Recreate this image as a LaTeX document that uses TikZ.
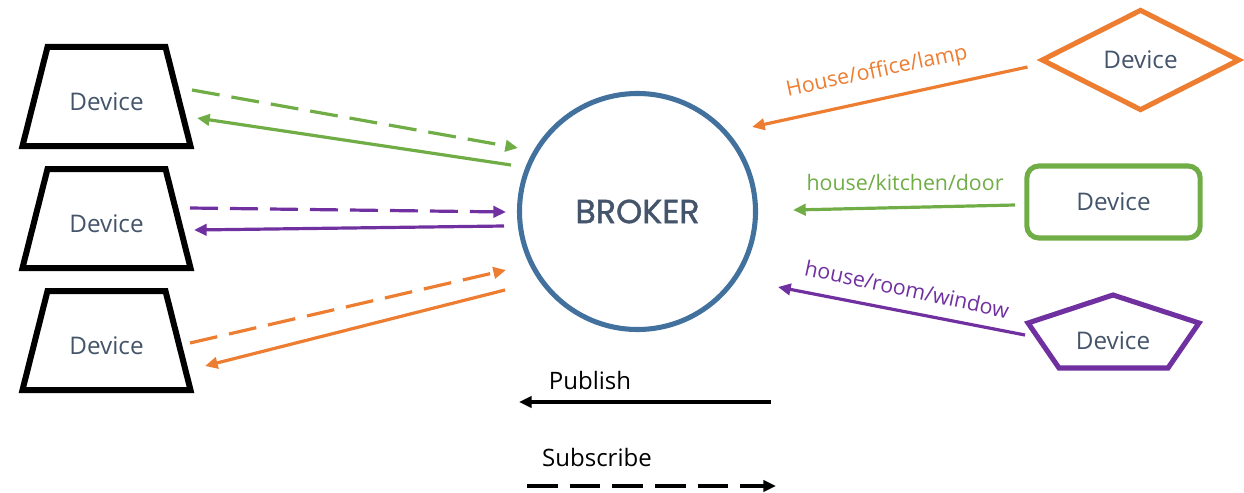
\documentclass[tikz,border=0pt]{standalone}
\usepackage{fontspec}
\setmainfont{Open Sans}
\newfontfamily\brokerfont[FakeBold=1.2]{Poppins}
\usetikzlibrary{shapes.geometric,arrows.meta}
\definecolor{orng}{HTML}{ED7D31}
\definecolor{grn}{HTML}{70AD47}
\definecolor{purp}{HTML}{7030A0}
\definecolor{blu}{HTML}{41719C}
\definecolor{slate}{HTML}{44546A}
\begin{document}
\begin{tikzpicture}[x=0.75pt,y=-0.75pt,
  devtext/.style={text=slate, font=\fontsize{18.2}{21}\selectfont},
  trapline/.style={draw=black, line width=4.5pt, line join=miter},
  conn/.style={line width=2.4pt, -{Triangle[length=9.5pt,width=8.5pt]}},
  dsh/.style={conn, dash pattern=on 21pt off 9pt},
  lbl/.style={font=\fontsize{16}{19}\selectfont},
  legtext/.style={font=\fontsize{18}{21}\selectfont, text=black}
]
\useasboundingbox (0,0) rectangle (1244,492);

% left devices
\node[devtext] (d1) at (106.5,102) {Device};
\node[devtext] (d2) at (106.5,224) {Device};
\node[devtext] (d3) at (106.5,346) {Device};
\foreach \n in {d1,d2,d3}
  \draw[trapline] ([shift={(-59,-55)}]\n.center) -- ([shift={(59,-55)}]\n.center) --
    ([shift={(84,44)}]\n.center) -- ([shift={(-84,44)}]\n.center) -- cycle;

% broker
\node[circle, draw=blu, line width=3.8pt, minimum size=177pt, inner sep=0pt,
      text=slate, font=\brokerfont\fontsize{25}{29}\selectfont] (b) at (637.5,211.5) {BROKER};

% right devices
\node[devtext, diamond, aspect=2, draw=orng, line width=3.8pt, minimum width=149pt,
      minimum height=76pt, inner sep=0pt] (dia) at (1140.5,60) {Device};
\node[devtext, rectangle, rounded corners=9pt, draw=grn, line width=3.8pt,
      minimum width=130pt, minimum height=54pt] (rr) at (1113.5,202) {Device};
\node[devtext] (pt) at (1113,341) {Device};
\draw[purp, line width=3.8pt, line join=miter]
  ([shift={(0,-46)}]pt.center) -- ([shift={(86,-18)}]pt.center) --
  ([shift={(55,27)}]pt.center) -- ([shift={(-54,27)}]pt.center) --
  ([shift={(-85,-18)}]pt.center) -- cycle;

% left connectors
\draw[dsh, grn] ([shift={(85.5,-12)}]d1.center) -- ([shift={(-119.5,-63.5)}]b.center);
\draw[conn, grn] ([shift={(-126.5,-46.5)}]b.center) -- ([shift={(90.5,16)}]d1.center);
\draw[dsh, purp] ([shift={(83.5,-16)}]d2.center) -- ([shift={(-131.5,0.5)}]b.center);
\draw[conn, purp] ([shift={(-133.5,14.5)}]b.center) -- ([shift={(87.5,6)}]d2.center);
\draw[dsh, orng] ([shift={(83.5,-3)}]d3.center) -- ([shift={(-131.5,58.5)}]b.center);
\draw[conn, orng] ([shift={(-132.5,78.5)}]b.center) -- ([shift={(98.5,20)}]d3.center);

% right connectors
\draw[conn, orng] ([shift={(-113,7)}]dia.center) -- ([shift={(114.5,-84.5)}]b.center);
\draw[conn, grn] ([shift={(-98.5,3)}]rr.center) -- ([shift={(155.5,-1.5)}]b.center);
\draw[conn, purp] ([shift={(-88,-6)}]pt.center) -- ([shift={(140.5,75.5)}]b.center);

% topic labels
\node[lbl, text=orng, rotate=12] (l1) at (877,72) {House/office/lamp};
\node[lbl, text=grn] (l2) at (905,182) {house/kitchen/door};
\node[lbl, text=purp, rotate=-12] (l3) at (907,289) {house/room/window};

% legend
\node[legtext] (pub) at (590,380) {Publish};
\coordinate (pubA) at (771,402);
\coordinate (pubB) at (519,402);
\draw[conn, black] (pubA) -- (pubB);
\node[legtext] (sub) at (597,457) {Subscribe};
\coordinate (subA) at (527,486);
\coordinate (subB) at (776,486);
\draw[conn, black, dash pattern=on 23pt off 9pt] (subA) -- (subB);
\end{tikzpicture}
\end{document}
